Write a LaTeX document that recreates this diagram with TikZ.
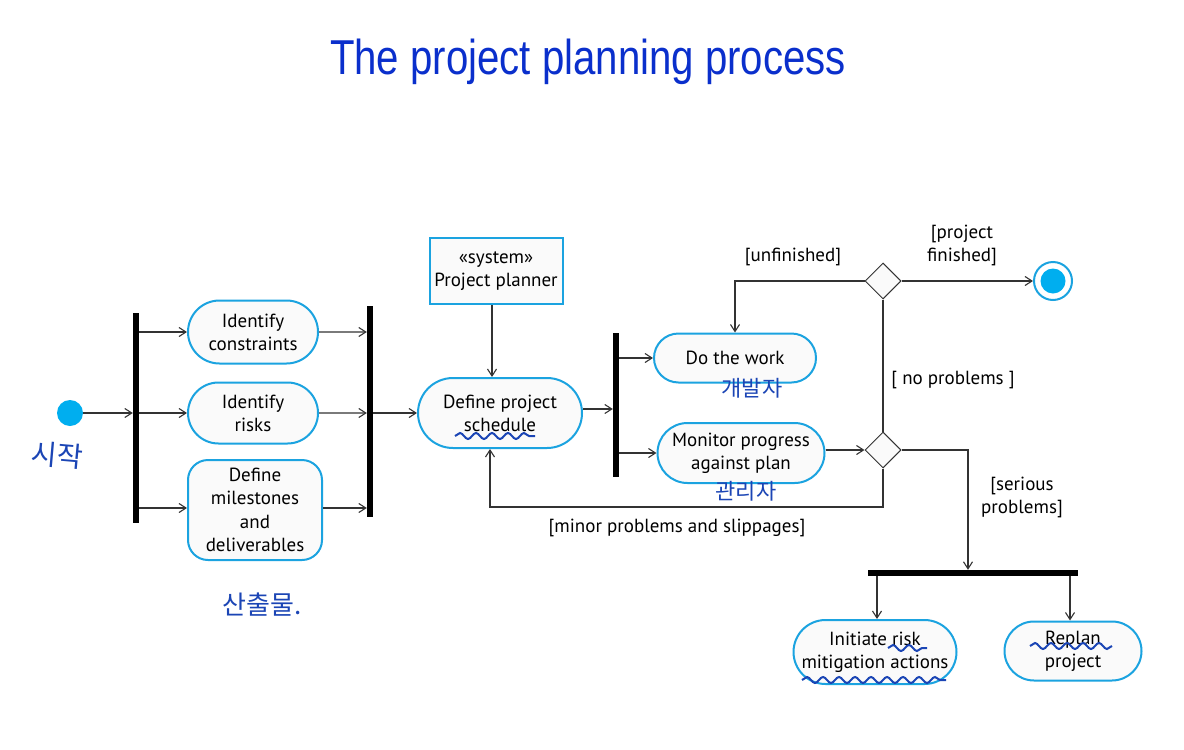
\documentclass[tikz,border=0pt]{standalone}
\usepackage{fontspec}
\setmainfont{PT Sans}
\newfontfamily\titlefont{Liberation Sans}
\newfontfamily\kofont{Noto Sans CJK KR}
\usetikzlibrary{arrows.meta,shapes.misc,shapes.geometric,decorations.pathmorphing}
\definecolor{cy}{HTML}{00AEEF}
\definecolor{bd}{HTML}{1BA3E0}
\definecolor{ttl}{HTML}{0A2FCC}
\definecolor{hw}{HTML}{1B45B5}
\definecolor{ln}{HTML}{333333}
\tikzset{
  act/.style={rounded rectangle, draw=bd, line width=2pt, fill=white!98!black, align=center, font=\fontsize{19}{23}\selectfont, inner sep=0pt},
  bar/.style={rectangle, fill=black, inner sep=0pt},
  dec/.style={diamond, draw=ln, line width=1pt, fill=white!98!black, minimum width=36, minimum height=36, inner sep=0pt},
  con/.style={draw=ln, line width=1.1pt},
  arr/.style={con, -{Straight Barb[length=7pt,width=9pt]}},
  lab/.style={font=\fontsize{19}{23}\selectfont, align=center},
  hand/.style={text=hw, font=\kofont\fontsize{22}{24}\selectfont},
  squig/.style={draw=hw, line width=2pt, decorate, decoration={snake, segment length=16pt, amplitude=3pt}},
}
\begin{document}
\begin{tikzpicture}[x=1pt,y=-1pt]
\useasboundingbox[fill=white] (0,0) rectangle (1184,750);
% title
\node (title) at (588,62) {\color{ttl}\titlefont\fontsize{49}{56}\selectfont\scalebox{0.82}[1]{The project planning process}};
% start
\node[circle, fill=cy, minimum size=26, inner sep=0pt] (start) at (70,413) {};
% bars
\node[bar, minimum width=6, minimum height=210] (bar1) at (136,418) {};
\node[bar, minimum width=6, minimum height=211] (bar2) at (370,411.5) {};
\node[bar, minimum width=6, minimum height=144] (bar3) at (616,405) {};
\node[bar, minimum width=210, minimum height=6] (bar4) at (973,573) {};
% activities
\node[act, minimum width=130, minimum height=63] (ic) at (253,332) {Identify\\constraints};
\node[act, minimum width=130, minimum height=61] (ir) at (253,413) {Identify\\risks};
\node[rectangle, rounded corners=20pt, draw=bd, line width=2pt, fill=white!98!black, align=center, font=\fontsize{19}{23.5}\selectfont, minimum width=134, minimum height=100, inner sep=0pt] (dm) at (255,510) {Define\\milestones\\and\\deliverables};
\node[rectangle, draw=bd, line width=2pt, fill=white!98!black, align=center, font=\fontsize{19}{23}\selectfont, minimum width=133, minimum height=66, inner sep=0pt] (pl) at (496,271) {«system»\\Project planner};
\node[act, minimum width=164, minimum height=70] (sched) at (500,413) {Define project\\schedule};
\node[act, minimum width=162, minimum height=49] (work) at (735,358) {Do the work};
\node[act, minimum width=167, minimum height=60] (mon) at (741,453) {Monitor progress\\against plan};
\node[act, minimum width=163, minimum height=64] (init) at (875,652) {Initiate risk\\mitigation actions};
\node[act, minimum width=137, minimum height=59] (rep) at (1073,651) {Replan\\project};
% decisions
\node[dec] (d1) at (883,281) {};
\node[dec] (d2) at (883,450) {};
% final
\node[circle, draw=bd, line width=2pt, fill=white, minimum size=38, inner sep=0pt] (fin) at (1053,281) {};
\node[circle, fill=cy, minimum size=25, inner sep=0pt] (fin2) at (fin) {};
% connectors
\draw[arr] (start) -- (start -| bar1.west);
\draw[arr] (bar1.east |- ic) -- (ic);
\draw[arr] (bar1.east |- ir) -- (ir);
\draw[arr] (bar1.east |- 0,508) -- (dm.west |- 0,508);
\draw[arr] (ic) -- (ic -| bar2.west);
\draw[arr] (ir) -- (ir -| bar2.west);
\draw[arr] (dm.east |- 0,508) -- (bar2.west |- 0,508);
\draw[arr] (bar2.east |- sched) -- (sched);
\draw[arr] (pl.south -| 492,0) -- (sched.north -| 492,0);
\draw[arr] (sched.east |- 0,409) -- (bar3.west |- 0,409);
\draw[arr] (bar3.east |- work) -- (work);
\draw[arr] (bar3.east |- mon) -- (mon);
\draw[arr] (mon.east |- d2) -- (d2);
\draw[con] (d2.north) -- (d1.south);
\draw[arr] (d1) -- (fin);
\draw[arr] (d1.west) -| (work.north);
\coordinate (mp) at (490,507);
\draw[arr] (d2.south) |- (mp) -- (sched.south -| mp);
\coordinate (sp) at (968,450);
\draw[arr] (d2.east) -- (sp) -- (sp |- bar4.north);
\draw[arr] (bar4.south -| 877,0) -- (init.north -| 877,0);
\draw[arr] (bar4.south -| 1070,0) -- (rep.north -| 1070,0);
% labels
\node[lab] (l1) at (793,257) {[unfinished]};
\node[lab] (l2) at (962,245) {[project\\finished]};
\node[lab] (l3) at (953,380) {[ no problems ]};
\node[lab] (l4) at (677,528) {[minor problems and slippages]};
\node[lab] (l5) at (1022,497) {[serious\\problems]};
% handwriting
\node[hand, font=\kofont\fontsize{28}{30}\selectfont, rotate=-5] (h1) at (57,455) {시작};
\node[hand] (h2) at (752,388) {개발자};
\node[hand] (h3) at (746,491) {관리자};
\node[hand, font=\kofont\fontsize{26}{28}\selectfont] (h4) at (262,605) {산출물.};
\draw[squig] (455,436) -- (535,436);
\draw[squig] (888,648) -- (927,648);
\draw[squig] (802,680) -- (946,680);
\draw[squig] (1030,646) -- (1112,646);
\end{tikzpicture}
\end{document}
